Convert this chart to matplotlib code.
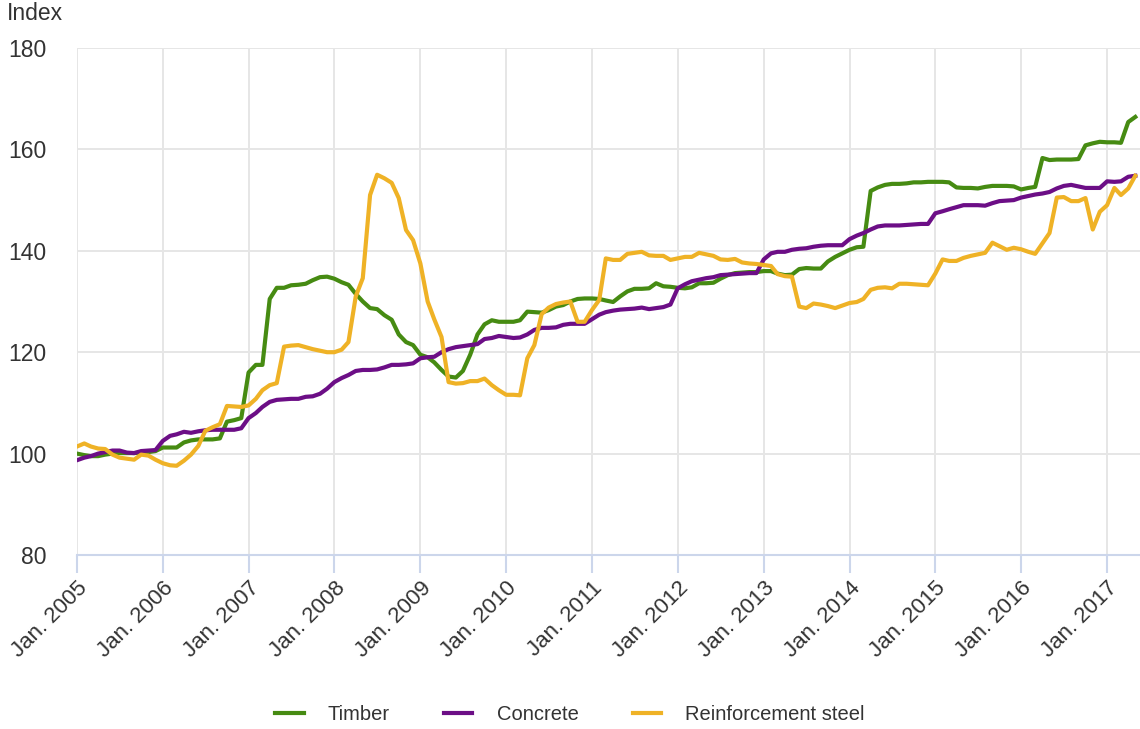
import pandas as pd
import matplotlib

matplotlib.use("Agg")
import matplotlib.pyplot as plt
import matplotlib.transforms as mtransforms

plt.rcParams["font.family"] = ["Liberation Sans", "DejaVu Sans"]

# monthly index values, Jan. 2005 .. May 2017
start_month = "2005-01-01"
n_months = 149

timber = [
    100.0, 99.7, 99.5, 99.5, 99.8, 100.0, 100.1, 100.1, 100.1, 100.2, 100.3, 100.5,
    101.2, 101.2, 101.2, 102.2, 102.6, 102.8, 102.8, 102.8, 103.0, 106.3, 106.6, 107.0,
    116.0, 117.5, 117.5, 130.5, 132.7, 132.7, 133.2, 133.3, 133.5, 134.2, 134.8, 134.9,
    134.5, 133.8, 133.3, 131.5, 130.0, 128.7, 128.5, 127.3, 126.4, 123.5, 122.0, 121.4,
    119.5, 119.0, 118.0, 116.5, 115.2, 115.0, 116.3, 119.5, 123.5, 125.5, 126.3, 126.0,
    126.0, 126.0, 126.3, 128.0, 127.9, 127.8, 128.3, 129.0, 129.3, 130.0, 130.5, 130.6,
    130.6, 130.5, 130.2, 129.9, 131.0, 132.0, 132.5, 132.5, 132.6, 133.6, 133.0, 132.9,
    132.7, 132.6, 132.8, 133.6, 133.6, 133.7, 134.5, 135.2, 135.6, 135.7, 135.8, 135.8,
    136.0, 136.0, 135.5, 135.2, 135.3, 136.4, 136.6, 136.5, 136.5, 137.9, 138.8, 139.5,
    140.2, 140.7, 140.8, 151.8, 152.5, 153.0, 153.2, 153.2, 153.3, 153.5, 153.5, 153.6,
    153.6, 153.6, 153.5, 152.5, 152.4, 152.4, 152.3, 152.6, 152.8, 152.8, 152.8, 152.7,
    152.1, 152.4, 152.6, 158.3, 157.9, 158.0, 158.0, 158.0, 158.1, 160.8, 161.2, 161.5,
    161.4, 161.4, 161.3, 165.4, 166.4,
]

concrete = [
    98.7, 99.2, 99.5, 100.0, 100.3, 100.6, 100.6, 100.2, 100.1, 100.5, 100.6, 100.7,
    102.5, 103.5, 103.8, 104.3, 104.1, 104.4, 104.6, 104.7, 104.7, 104.7, 104.7, 105.0,
    107.0, 108.0, 109.2, 110.2, 110.6, 110.7, 110.8, 110.8, 111.2, 111.3, 111.8, 112.8,
    114.1, 114.9, 115.5, 116.3, 116.5, 116.5, 116.6, 117.0, 117.5, 117.5, 117.6, 117.8,
    118.8, 119.0, 119.1, 120.0, 120.6, 121.0, 121.2, 121.4, 121.6, 122.6, 122.8, 123.2,
    123.0, 122.8, 122.9, 123.5, 124.4, 124.8, 124.8, 124.9, 125.4, 125.6, 125.6, 125.6,
    126.5, 127.4, 127.9, 128.2, 128.4, 128.5, 128.6, 128.8, 128.5, 128.7, 128.9, 129.4,
    132.6, 133.4, 134.0, 134.3, 134.6, 134.8, 135.2, 135.3, 135.4, 135.5, 135.6, 135.6,
    138.3, 139.5, 139.8, 139.8, 140.2, 140.4, 140.5, 140.8, 141.0, 141.1, 141.1, 141.1,
    142.3, 143.0, 143.5, 144.2, 144.8, 145.0, 145.0, 145.0, 145.1, 145.2, 145.3, 145.3,
    147.4, 147.8, 148.2, 148.6, 149.0, 149.0, 149.0, 148.9, 149.4, 149.8, 149.9, 150.0,
    150.5, 150.8, 151.1, 151.3, 151.6, 152.3, 152.8, 153.0, 152.7, 152.4, 152.4, 152.4,
    153.7, 153.6, 153.7, 154.6, 154.8,
]

steel = [
    101.4, 102.0, 101.4, 101.0, 100.9, 99.8, 99.2, 99.0, 98.8, 99.8, 99.6, 98.8,
    98.1, 97.7, 97.6, 98.6, 99.8, 101.5, 104.5, 105.2, 105.8, 109.4, 109.3, 109.2,
    109.5, 110.8, 112.5, 113.5, 113.9, 121.1, 121.3, 121.4, 121.0, 120.6, 120.3, 120.0,
    120.0, 120.5, 122.0, 131.0, 134.6, 151.0, 155.0, 154.3, 153.4, 150.4, 144.1, 142.1,
    137.5, 130.0, 126.5, 123.0, 114.1, 113.8, 113.9, 114.3, 114.3, 114.8, 113.5, 112.5,
    111.6, 111.6, 111.5, 118.8, 121.4, 127.5, 128.8, 129.5, 129.8, 130.0, 126.0, 126.0,
    128.3, 130.3, 138.5, 138.2, 138.2, 139.4, 139.6, 139.8, 139.1, 139.0, 139.0, 138.2,
    138.5, 138.8, 138.8, 139.6, 139.3, 139.0, 138.3, 138.2, 138.4, 137.7, 137.5, 137.4,
    137.2, 137.0, 135.4, 135.0, 134.9, 129.0, 128.7, 129.6, 129.4, 129.1, 128.7, 129.2,
    129.7, 129.9, 130.5, 132.3, 132.7, 132.8, 132.6, 133.5, 133.5, 133.4, 133.3, 133.2,
    135.5, 138.3, 138.0, 138.0, 138.6, 139.0, 139.3, 139.6, 141.6, 140.9, 140.2, 140.6,
    140.3, 139.8, 139.4, 141.5, 143.5, 150.5, 150.6, 149.8, 149.8, 150.4, 144.2, 147.7,
    149.0, 152.4, 151.0, 152.3, 154.8,
]

series_names = ["Timber", "Concrete", "Reinforcement steel"]
colors = ["#468b12", "#6c0e86", "#efb226"]

months = pd.date_range(start_month, periods=n_months, freq="MS")
year_ticks = pd.date_range("2005-01-01", "2017-01-01", freq="YS")
tick_labels = [f"Jan. {d.year}" for d in year_ticks]

text_col = "#333333"
W, H = 1140, 729

fig = plt.figure(figsize=(W / 100, H / 100), dpi=100)
ax = fig.add_axes([77 / W, 1 - 555 / H, 1 - 77 / W, (555 - 48) / H])

for vals, name, col in zip([timber, concrete, steel], series_names, colors):
    ax.plot(months, vals, color=col, lw=3, label=name, solid_joinstyle="round")

ax.set_ylim(80, 180)
ax.set_yticks(range(80, 181, 20))
ax.set_xlim(pd.Timestamp("2005-01-01"), pd.Timestamp("2017-05-21"))
ax.set_xticks(year_ticks)
ax.set_xticklabels(tick_labels, rotation=45, ha="right", va="top", rotation_mode="anchor")

# nudge the rotated labels a bit to the right
offset = mtransforms.ScaledTranslation(0.05, 0, fig.dpi_scale_trans)
for lbl in ax.get_xticklabels():
    lbl.set_transform(lbl.get_transform() + offset)

ax.grid(True, color="#e6e6e6", lw=1.4)
ax.set_axisbelow(True)
for side in ["top", "right", "left"]:
    ax.spines[side].set_visible(False)
ax.spines["bottom"].set_color("#ccd6eb")
ax.spines["bottom"].set_linewidth(1.5)

ax.tick_params(axis="y", length=0, pad=22, labelsize=16.5, labelcolor=text_col)
ax.tick_params(axis="x", length=13, width=1.5, color="#ccd6eb", pad=3,
               labelsize=16, labelcolor=text_col)

fig.text(7 / W, 1 - 14 / H, "Index", fontsize=16.5, color=text_col, va="center", ha="left")

fig.legend(loc="center", bbox_to_anchor=(0.5, 1 - 715 / H), ncol=3, frameon=False,
           fontsize=14.5, handlelength=1.4, handletextpad=1.2, columnspacing=2.7,
           labelcolor=text_col)

fig.savefig("out.png", dpi=100)
